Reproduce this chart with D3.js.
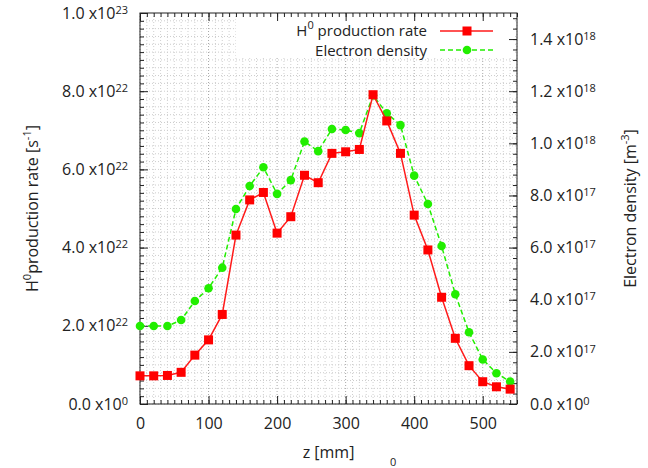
<!DOCTYPE html>
<html>
<head>
<meta charset="utf-8">
<script src="https://cdn.jsdelivr.net/npm/d3@7"></script>
<style>
  body { margin: 0; background: #fff; }
  svg text { font-family: "Open Sans", "DejaVu Sans", sans-serif; fill: #222; }
</style>
</head>
<body>
<div id="chart"></div>
<script>
// z positions along the device [mm]
var zPos = [0, 20, 40, 60, 80, 100, 120, 140, 160, 180, 200, 220, 240, 260,
            280, 300, 320, 340, 360, 380, 400, 420, 440, 460, 480, 500, 520, 540];

// H0 production rate [1/s]
var h0Rate = [0.72e22, 0.72e22, 0.73e22, 0.81e22, 1.25e22, 1.64e22, 2.29e22, 4.32e22,
              5.22e22, 5.41e22, 4.37e22, 4.79e22, 5.85e22, 5.66e22, 6.41e22, 6.45e22,
              6.51e22, 7.91e22, 7.24e22, 6.41e22, 4.83e22, 3.94e22, 2.73e22, 1.68e22,
              0.98e22, 0.57e22, 0.44e22, 0.38e22];

// electron density [m^-3]
var neDensity = [2.99e17, 2.99e17, 2.99e17, 3.22e17, 3.95e17, 4.44e17, 5.23e17, 7.48e17,
                 8.36e17, 9.08e17, 8.06e17, 8.59e17, 10.07e17, 9.70e17, 10.55e17, 10.51e17,
                 10.39e17, 11.84e17, 11.15e17, 10.70e17, 8.76e17, 7.67e17, 6.06e17, 4.21e17,
                 2.75e17, 1.71e17, 1.18e17, 0.86e17];

// tick values and their labels (mantissa, exponent)
var xTicks = [0, 100, 200, 300, 400, 500];
var leftTicks = [0, 2e22, 4e22, 6e22, 8e22, 1e23];
var leftLabels = [["0.0 x10", "0"], ["2.0 x10", "22"], ["4.0 x10", "22"], ["6.0 x10", "22"], ["8.0 x10", "22"], ["1.0 x10", "23"]];
var rightTicks = [0, 2e17, 4e17, 6e17, 8e17, 1e18, 1.2e18, 1.4e18];
var rightLabels = [["0.0 x10", "0"], ["2.0 x10", "17"], ["4.0 x10", "17"], ["6.0 x10", "17"], ["8.0 x10", "17"], ["1.0 x10", "18"], ["1.2 x10", "18"], ["1.4 x10", "18"]];

var width = 648, height = 468;
var plot = {left: 140, right: 517, top: 13, bottom: 404};

var svg = d3.select("#chart").append("svg")
    .attr("width", width)
    .attr("height", height);

var x = d3.scaleLinear().domain([0, 550]).range([plot.left, plot.right]);
var yL = d3.scaleLinear().domain([0, 1e23]).range([plot.bottom, plot.top]);
var yR = d3.scaleLinear().domain([0, 1.5e18]).range([plot.bottom, plot.top]);

var pw = plot.right - plot.left, ph = plot.bottom - plot.top;

//// grid (dotted, on minor ticks) \\\\
var xMinor = d3.range(0, 551, 10);
var yMinor = d3.range(0, 1e23 + 1, 2e21);

svg.append("g").selectAll("line").data(xMinor).enter().append("line")
    .attr("x1", d => x(d)).attr("x2", d => x(d))
    .attr("y1", plot.top).attr("y2", plot.bottom)
    .attr("stroke", d => d % 100 == 0 ? "#a8a8a8" : "#d0d0d0")
    .attr("stroke-width", 1)
    .attr("stroke-dasharray", "1,2");

svg.append("g").selectAll("line").data(yMinor).enter().append("line")
    .attr("x1", plot.left).attr("x2", plot.right)
    .attr("y1", d => yL(d)).attr("y2", d => yL(d))
    .attr("stroke", "#cccccc")
    .attr("stroke-width", 1)
    .attr("stroke-dasharray", "1,2");

//// legend background \\\\
svg.append("rect")
    .attr("x", 236).attr("y", 15)
    .attr("width", 278).attr("height", 43)
    .attr("fill", "#fff");

//// axes \\\\
// bottom minor + major
svg.append("g").attr("transform", "translate(0," + plot.bottom + ")")
    .call(d3.axisBottom(x).tickValues(xMinor).tickSize(-4).tickFormat(""));
var xAxis = svg.append("g").attr("transform", "translate(0," + plot.bottom + ")")
    .call(d3.axisBottom(x).tickValues(xTicks).tickSize(-8).tickPadding(14));
xAxis.selectAll("text").attr("font-size", 16);

// top mirror
svg.append("g").attr("transform", "translate(0," + plot.top + ")")
    .call(d3.axisTop(x).tickValues(xMinor).tickSize(-4).tickFormat(""));
svg.append("g").attr("transform", "translate(0," + plot.top + ")")
    .call(d3.axisTop(x).tickValues(xTicks).tickSize(-8).tickFormat(""));

// left
svg.append("g").attr("transform", "translate(" + plot.left + ",0)")
    .call(d3.axisLeft(yL).tickValues(yMinor).tickSize(-4).tickFormat(""));
var yAxisL = svg.append("g").attr("transform", "translate(" + plot.left + ",0)")
    .call(d3.axisLeft(yL).tickValues(leftTicks).tickSize(-8).tickPadding(12));

// right
var rMinor = d3.range(0, 1.5e18 + 1, 4e16);
svg.append("g").attr("transform", "translate(" + plot.right + ",0)")
    .call(d3.axisRight(yR).tickValues(rMinor).tickSize(-4).tickFormat(""));
var yAxisR = svg.append("g").attr("transform", "translate(" + plot.right + ",0)")
    .call(d3.axisRight(yR).tickValues(rightTicks).tickSize(-8).tickPadding(13));

svg.selectAll(".domain").attr("stroke", "none");
svg.selectAll(".tick line").attr("stroke", "#222");

// labels with superscript exponent
function supLabel(sel, labels, ticks) {
    sel.selectAll(".tick text").each(function(d) {
        var i = ticks.indexOf(d);
        var t = d3.select(this).text(null).attr("font-size", 16);
        t.append("tspan").text(labels[i][0]);
        t.append("tspan").attr("dy", "-0.45em").attr("font-size", 11).text(labels[i][1]);
    });
}
supLabel(yAxisL, leftLabels, leftTicks);
supLabel(yAxisR, rightLabels, rightTicks);

// frame
svg.append("rect")
    .attr("x", plot.left).attr("y", plot.top)
    .attr("width", pw).attr("height", ph)
    .attr("fill", "none").attr("stroke", "#222").attr("stroke-width", 1);

//// series \\\\
var rateLine = d3.line().x((d, i) => x(zPos[i])).y(d => yL(d));
var densLine = d3.line().x((d, i) => x(zPos[i])).y(d => yR(d));

svg.append("path").datum(neDensity)
    .attr("d", densLine)
    .attr("fill", "none").attr("stroke", "#22ee00").attr("stroke-width", 1.5)
    .attr("stroke-dasharray", "5,3");
svg.append("g").selectAll("circle").data(neDensity).enter().append("circle")
    .attr("cx", (d, i) => x(zPos[i]))
    .attr("cy", d => yR(d))
    .attr("r", 4.3)
    .attr("fill", "#22ee00");

svg.append("path").datum(h0Rate)
    .attr("d", rateLine)
    .attr("fill", "none").attr("stroke", "#ff1a1a").attr("stroke-width", 1.5);
svg.append("g").selectAll("rect").data(h0Rate).enter().append("rect")
    .attr("x", (d, i) => x(zPos[i]) - 4.5)
    .attr("y", d => yL(d) - 4.5)
    .attr("width", 9).attr("height", 9)
    .attr("fill", "#ff0000");

//// legend \\\\
var leg = svg.append("g");
var t1 = leg.append("text").attr("x", 427).attr("y", 35.5).attr("text-anchor", "end").attr("font-size", 15);
t1.append("tspan").text("H");
t1.append("tspan").attr("dy", -7).attr("font-size", 11).text("0");
t1.append("tspan").attr("dy", 7).text(" production rate");
leg.append("line").attr("x1", 440).attr("x2", 493).attr("y1", 31).attr("y2", 31)
    .attr("stroke", "#ff1a1a").attr("stroke-width", 1.5);
leg.append("rect").attr("x", 462.5).attr("y", 26.5).attr("width", 9).attr("height", 9).attr("fill", "#ff0000");

leg.append("text").attr("x", 427).attr("y", 56).attr("text-anchor", "end").attr("font-size", 15)
    .text("Electron density");
leg.append("line").attr("x1", 440).attr("x2", 493).attr("y1", 50).attr("y2", 50)
    .attr("stroke", "#22ee00").attr("stroke-width", 1.5).attr("stroke-dasharray", "5,3");
leg.append("circle").attr("cx", 467).attr("cy", 50).attr("r", 4.3).attr("fill", "#22ee00");

//// axis titles \\\\
svg.append("text")
    .attr("x", (plot.left + plot.right) / 2).attr("y", 458)
    .attr("text-anchor", "middle").attr("font-size", 16)
    .text("z [mm]");

var lt = svg.append("text")
    .attr("transform", "translate(38," + (plot.top + plot.bottom) / 2 + ") rotate(-90)")
    .attr("text-anchor", "middle").attr("font-size", 16);
lt.append("tspan").text("H");
lt.append("tspan").attr("dy", -7).attr("font-size", 11).text("0");
lt.append("tspan").attr("dy", 7).text("production rate [s");
lt.append("tspan").attr("dy", -7).attr("font-size", 11).text("-1");
lt.append("tspan").attr("dy", 7).text("]");

var rt = svg.append("text")
    .attr("transform", "translate(636," + (plot.top + plot.bottom) / 2 + ") rotate(-90)")
    .attr("text-anchor", "middle").attr("font-size", 16);
rt.append("tspan").text("Electron density [m");
rt.append("tspan").attr("dy", -7).attr("font-size", 11).text("-3");
rt.append("tspan").attr("dy", 7).text("]");

// cut-off caption superscript at the bottom edge
svg.append("text").attr("x", 390).attr("y", 466).attr("font-size", 11).text("0");
</script>
</body>
</html>
